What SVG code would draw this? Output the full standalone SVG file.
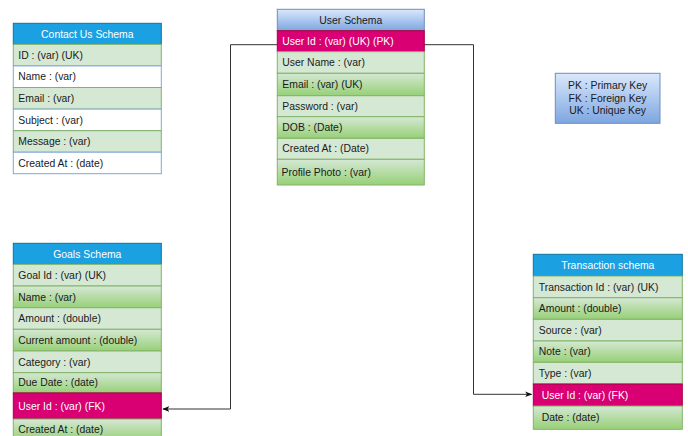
<svg xmlns="http://www.w3.org/2000/svg" width="688" height="436" viewBox="0 0 688 436">
<style>
text{font-family:"Liberation Sans",Arial,sans-serif;font-size:10.4px;fill:#1a1a1a}
.hd{fill:#1ba1e2;stroke:#10739e;stroke-width:1}
.ht{fill:#ffffff;text-anchor:middle}
.g{fill:#d5e8d4;stroke:#82b366;stroke-width:1}
.gg{fill:url(#gr);stroke:#82b366;stroke-width:1}
.w{fill:#ffffff;stroke:#7ea6e0;stroke-width:1}
.p{fill:#d80073;stroke:#a50040;stroke-width:1}
.pt{fill:#ffffff}
.c{fill:none;stroke:#333333;stroke-width:1}
.ct{text-anchor:middle}
</style>
<defs>
<linearGradient id="gr" x1="0" y1="0" x2="0" y2="1"><stop offset="0" stop-color="#d5e8d4"/><stop offset="1" stop-color="#97d077"/></linearGradient>
<linearGradient id="bl" x1="0" y1="0" x2="0" y2="1"><stop offset="0" stop-color="#dae8fc"/><stop offset="1" stop-color="#7ea6e0"/></linearGradient>
<marker id="ar" viewBox="0 0 10 10" refX="9" refY="5" markerWidth="7" markerHeight="7" orient="auto" markerUnits="userSpaceOnUse"><path d="M0,1 L10,5 L0,9 L2.5,5 Z" fill="#111"/></marker>
</defs>
<rect width="688" height="436" fill="#ffffff"/>

<g id="connectors">
<path class="c" d="M277.3,44.7 H230.5 V409 H163" marker-end="url(#ar)"/>
<path class="c" d="M424.3,44.7 H473.5 V394.3 H531.5" marker-end="url(#ar)"/>
</g>

<g id="contact-us-schema">
<rect class="hd" x="13.3" y="23.3" width="148" height="21"/>
<text class="ht" x="87.3" y="37.5">Contact Us Schema</text>
<rect class="g" x="13.3" y="44.3" width="148" height="21.6"/>
<text x="18.3" y="58.7">ID : (var) (UK)</text>
<rect class="w" x="13.3" y="65.9" width="148" height="21.6"/>
<text x="18.3" y="80.3">Name : (var)</text>
<rect class="g" x="13.3" y="87.5" width="148" height="21.6"/>
<text x="18.3" y="101.9">Email : (var)</text>
<rect class="w" x="13.3" y="109.1" width="148" height="21.6"/>
<text x="18.3" y="123.5">Subject : (var)</text>
<rect class="g" x="13.3" y="130.7" width="148" height="21.5"/>
<text x="18.3" y="145.1">Message : (var)</text>
<rect class="w" x="13.3" y="152.2" width="148" height="21.5"/>
<text x="18.3" y="166.6">Created At : (date)</text>
</g>

<g id="user-schema">
<rect x="277.3" y="9.3" width="147" height="21.4" fill="url(#bl)" stroke="#6c8ebf"/>
<text class="ct" x="350.8" y="23.6">User Schema</text>
<rect class="p" x="277.3" y="30.7" width="147" height="21"/>
<text class="pt" x="282.3" y="44.8">User Id : (var) (UK) (PK)</text>
<rect class="g" x="277.3" y="51.7" width="147" height="21.6"/>
<text x="282.3" y="66.1">User Name : (var)</text>
<rect class="gg" x="277.3" y="73.3" width="147" height="22.4"/>
<text x="282.3" y="88.1">Email : (var) (UK)</text>
<rect class="g" x="277.3" y="95.7" width="147" height="21"/>
<text x="282.3" y="109.8">Password : (var)</text>
<rect class="gg" x="277.3" y="116.7" width="147" height="21.6"/>
<text x="282.3" y="131.1">DOB : (Date)</text>
<rect class="g" x="277.3" y="138.3" width="147" height="21"/>
<text x="282.3" y="152.4">Created At : (Date)</text>
<rect class="gg" x="277.3" y="159.3" width="147" height="25.7"/>
<text x="281.5" y="175.7">Profile Photo : (var)</text>
</g>

<g id="legend">
<rect x="555.3" y="73.3" width="104.7" height="50" fill="url(#bl)" stroke="#6c8ebf"/>
<text class="ct" x="607.6" y="89.4">PK : Primary Key</text>
<text class="ct" x="607.6" y="101.8">FK : Foreign Key</text>
<text class="ct" x="607.6" y="114.3">UK : Unique Key</text>
</g>

<g id="goals-schema">
<rect class="hd" x="13.3" y="243.3" width="148" height="21"/>
<text class="ht" x="87.3" y="257.5">Goals Schema</text>
<rect class="g" x="13.3" y="264.3" width="148" height="21.7"/>
<text x="18.3" y="278.8">Goal Id : (var) (UK)</text>
<rect class="gg" x="13.3" y="286" width="148" height="21.7"/>
<text x="18.3" y="300.5">Name : (var)</text>
<rect class="g" x="13.3" y="307.7" width="148" height="21.6"/>
<text x="18.3" y="322.1">Amount : (double)</text>
<rect class="gg" x="13.3" y="329.3" width="148" height="21.7"/>
<text x="18.3" y="343.8">Current amount : (double)</text>
<rect class="g" x="13.3" y="351" width="148" height="21.7"/>
<text x="18.3" y="365.5">Category : (var)</text>
<rect class="gg" x="13.3" y="372.7" width="148" height="20.2"/>
<text x="18.3" y="386.4">Due Date : (date)</text>
<rect class="p" x="13.3" y="392.9" width="148" height="26.1"/>
<text class="pt" x="18.3" y="409.6">User Id : (var) (FK)</text>
<rect class="gg" x="13.3" y="419" width="148" height="22"/>
<text x="18.3" y="433.4">Created At : (date)</text>
</g>

<g id="transaction-schema">
<rect class="hd" x="533.3" y="254.3" width="149" height="21.7"/>
<text class="ht" x="607.8" y="268.8">Transaction schema</text>
<rect class="g" x="533.3" y="276" width="149" height="21.7"/>
<text x="538.8" y="290.5">Transaction Id : (var) (UK)</text>
<rect class="gg" x="533.3" y="297.7" width="149" height="21.6"/>
<text x="538.8" y="312.1">Amount : (double)</text>
<rect class="g" x="533.3" y="319.3" width="149" height="21.7"/>
<text x="538.8" y="333.8">Source : (var)</text>
<rect class="gg" x="533.3" y="341" width="149" height="21.3"/>
<text x="538.8" y="355.3">Note : (var)</text>
<rect class="g" x="533.3" y="362.3" width="149" height="21.7"/>
<text x="538.8" y="376.8">Type : (var)</text>
<rect class="p" x="533.3" y="384" width="149" height="22"/>
<text class="pt" x="541.7" y="398.6">User Id : (var) (FK)</text>
<rect class="gg" x="533.3" y="406" width="149" height="23.3"/>
<text x="541.7" y="421.3">Date : (date)</text>
</g>
</svg>
